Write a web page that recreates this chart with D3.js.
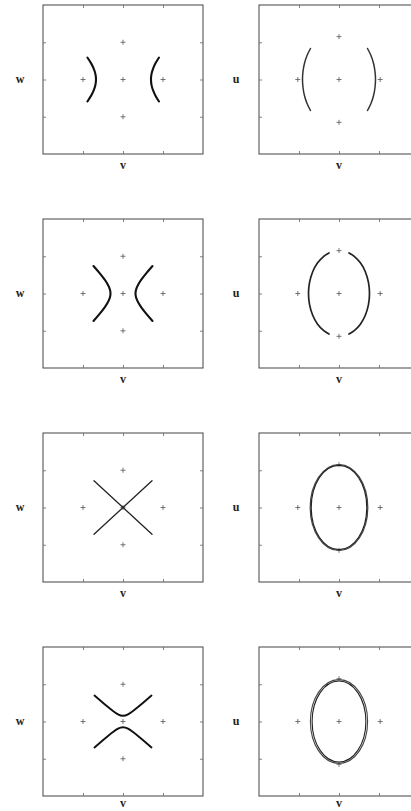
<!DOCTYPE html>
<html>
<head>
<meta charset="utf-8">
<script src="https://cdn.jsdelivr.net/npm/d3@7/dist/d3.min.js"></script>
<style>
  html, body { margin: 0; padding: 0; background: #fff; }
  svg { display: block; }
  .lbl { font-family: "Liberation Serif", "DejaVu Serif", serif; font-weight: bold; font-size: 12px; fill: #222; }
</style>
</head>
<body>
<svg id="fig" width="411" height="811"></svg>
<script>
// Axis ticks (same on both axes of every panel)
const tickValues = [-1, 0, 1];
const axisDomain = [-2, 2];

// Reference "+" marks
const wPlaneMarks = [[0, 0], [-1, 0], [1, 0], [0, 1], [0, -1]];
const uPlaneMarks = [[0, 0], [-1.03, 0], [1.03, 0], [0, 1.15], [0, -1.15]];

// (v, w) curves, left column
const vw1Left  = [[-0.89,-0.59],[-0.80,-0.44],[-0.735,-0.30],[-0.69,-0.15],[-0.675,0],[-0.69,0.15],[-0.735,0.30],[-0.80,0.44],[-0.89,0.59]];
const vw1Right = [[0.90,-0.59],[0.815,-0.44],[0.755,-0.30],[0.713,-0.15],[0.70,0],[0.713,0.15],[0.755,0.30],[0.815,0.44],[0.90,0.59]];

const vw2Left  = [[-0.7375,-0.738],[-0.59,-0.553],[-0.4575,-0.37],[-0.396,-0.268],[-0.355,-0.185],[-0.324,-0.094],[-0.3125,0],[-0.324,0.094],[-0.355,0.185],[-0.396,0.268],[-0.4575,0.37],[-0.59,0.553],[-0.7375,0.738]];
const vw2Right = [[0.7375,-0.738],[0.59,-0.553],[0.4575,-0.37],[0.396,-0.268],[0.355,-0.185],[0.324,-0.094],[0.3125,0],[0.324,0.094],[0.355,0.185],[0.396,0.268],[0.4575,0.37],[0.59,0.553],[0.7375,0.738]];

const vw3Falling = [[-0.725, 0.72], [0.725, -0.72]];
const vw3Rising  = [[-0.725, -0.72], [0.725, 0.72]];

const vw4Upper = [[-0.7125,0.698],[-0.525,0.524],[-0.375,0.389],[-0.25,0.285],[-0.125,0.193],[0,0.153],[0.125,0.193],[0.25,0.285],[0.375,0.389],[0.525,0.524],[0.7125,0.698]];
const vw4Lower = [[-0.7125,-0.698],[-0.525,-0.524],[-0.375,-0.389],[-0.25,-0.285],[-0.125,-0.193],[0,-0.153],[0.125,-0.193],[0.25,-0.285],[0.375,-0.389],[0.525,-0.524],[0.7125,-0.698]];

// (v, u) curves, right column
const vu1Left  = [[-0.7125,-0.832],[-0.799,-0.644],[-0.864,-0.43],[-0.90,-0.215],[-0.9125,0],[-0.90,0.215],[-0.864,0.43],[-0.799,0.644],[-0.7125,0.832]];
const vu1Right = [[0.7125,-0.832],[0.799,-0.644],[0.864,-0.43],[0.90,-0.215],[0.9125,0],[0.90,0.215],[0.864,0.43],[0.799,0.644],[0.7125,0.832]];

const vu2Left  = [[-0.25,-1.09],[-0.381,-0.999],[-0.539,-0.816],[-0.66,-0.577],[-0.7365,-0.298],[-0.7625,0],[-0.7365,0.298],[-0.66,0.577],[-0.539,0.816],[-0.381,0.999],[-0.25,1.09]];
const vu2Right = [[0.25,-1.09],[0.381,-0.999],[0.539,-0.816],[0.66,-0.577],[0.7365,-0.298],[0.7625,0],[0.7365,0.298],[0.66,0.577],[0.539,0.816],[0.381,0.999],[0.25,1.09]];

// closed orbits: [semi-axis along v, semi-axis along u]
const vu3Loops = [[0.72, 1.155], [0.695, 1.13]];
const vu4Loops = [[0.715, 1.125], [0.672, 1.088]];

const panels = [
  { row: 0, col: 0, yLabel: "w", marks: wPlaneMarks, paths: [vw1Left, vw1Right], width: 2.1, color: "#111" },
  { row: 0, col: 1, yLabel: "u", marks: uPlaneMarks, paths: [vu1Left, vu1Right], width: 1.5, color: "#333" },
  { row: 1, col: 0, yLabel: "w", marks: wPlaneMarks, paths: [vw2Left, vw2Right], width: 2.1, color: "#111" },
  { row: 1, col: 1, yLabel: "u", marks: uPlaneMarks, paths: [vu2Left, vu2Right], width: 1.7, color: "#222" },
  { row: 2, col: 0, yLabel: "w", marks: wPlaneMarks, paths: [vw3Falling, vw3Rising], width: 1.3, color: "#222" },
  { row: 2, col: 1, yLabel: "u", marks: uPlaneMarks, loops: vu3Loops, width: 1.2, color: "#222" },
  { row: 3, col: 0, yLabel: "w", marks: wPlaneMarks, paths: [vw4Upper, vw4Lower], width: 1.9, color: "#111" },
  { row: 3, col: 1, yLabel: "u", marks: uPlaneMarks, loops: vu4Loops, width: 1.1, color: "#222" }
];

const rowTops = [5, 219, 433, 647];
const colLefts = [43, 259];
const boxW = 160, boxH = 149;
const tickLen = 3;
const pageH = 811;

const svg = d3.select("#fig");

panels.forEach(p => {
  const x0 = colLefts[p.col], y0 = rowTops[p.row];
  const x = d3.scaleLinear().domain(axisDomain).range([x0, x0 + boxW]);
  const y = d3.scaleLinear().domain(axisDomain).range([y0 + boxH, y0]);
  const g = svg.append("g");

  // frame
  g.append("rect")
    .attr("x", x0).attr("y", y0).attr("width", boxW).attr("height", boxH)
    .attr("fill", "none").attr("stroke", "#555").attr("stroke-width", 1.1);

  // inward ticks on all four sides
  const bottomAxis = d3.axisBottom(x).tickValues(tickValues).tickSize(-tickLen).tickFormat("");
  const topAxis = d3.axisTop(x).tickValues(tickValues).tickSize(-tickLen).tickFormat("");
  const leftAxis = d3.axisLeft(y).tickValues(tickValues).tickSize(-tickLen).tickFormat("");
  const rightAxis = d3.axisRight(y).tickValues(tickValues).tickSize(-tickLen).tickFormat("");
  [[bottomAxis, `translate(0,${y0 + boxH})`], [topAxis, `translate(0,${y0})`],
   [leftAxis, `translate(${x0},0)`], [rightAxis, `translate(${x0 + boxW},0)`]].forEach(([ax, tr]) => {
    const a = g.append("g").attr("transform", tr).call(ax);
    a.select(".domain").remove();
    a.selectAll(".tick line").attr("stroke", "#666").attr("stroke-width", 0.8);
  });

  // "+" reference marks
  const arm = 2.5;
  p.marks.forEach(([mv, mw]) => {
    const cx = x(mv), cy = y(mw);
    g.append("path")
      .attr("d", `M${cx - arm},${cy}H${cx + arm}M${cx},${cy - arm}V${cy + arm}`)
      .attr("stroke", "#555").attr("stroke-width", 0.8).attr("fill", "none");
  });

  // curves
  const line = d3.line().x(d => x(d[0])).y(d => y(d[1])).curve(d3.curveNatural);
  (p.paths || []).forEach(pts => {
    g.append("path").attr("d", line(pts))
      .attr("fill", "none").attr("stroke", p.color)
      .attr("stroke-width", p.width).attr("stroke-linecap", "round");
  });
  (p.loops || []).forEach(([a, b], i) => {
    g.append("ellipse")
      .attr("cx", x(0)).attr("cy", y(0))
      .attr("rx", x(a) - x(0)).attr("ry", y(0) - y(b))
      .attr("fill", "none").attr("stroke", i === 0 ? "#444" : p.color)
      .attr("stroke-width", p.width);
  });

  // axis letters
  g.append("text").attr("class", "lbl")
    .attr("x", x(0)).attr("y", Math.min(y0 + boxH + 15, pageH - 4.5))
    .attr("text-anchor", "middle").text("v");
  g.append("text").attr("class", "lbl")
    .attr("x", x0 - 23).attr("y", y(0) + 3.5)
    .attr("text-anchor", "middle").text(p.yLabel);
});
</script>
</body>
</html>
